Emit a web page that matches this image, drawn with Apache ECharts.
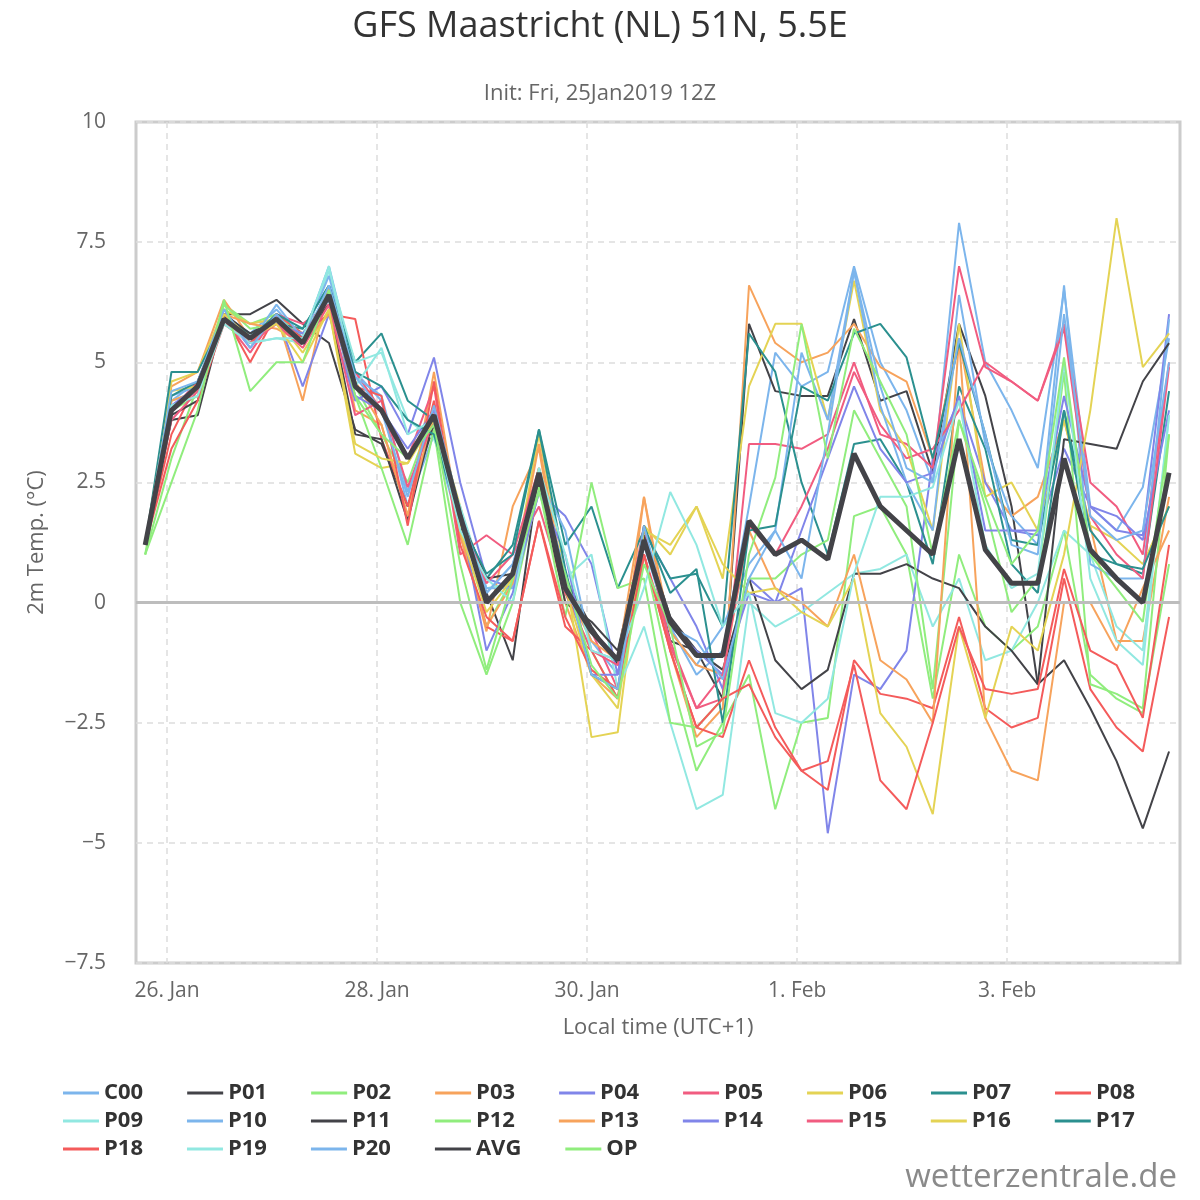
<!DOCTYPE html>
<html>
<head>
<meta charset="utf-8" />
<title>GFS Maastricht</title>
<script src="https://cdn.jsdelivr.net/npm/echarts@6/dist/echarts.min.js"></script>
<style>html,body{margin:0;padding:0;background:#fff}#chart{width:1200px;height:1200px}</style>
</head>
<body>
<div id="chart"></div>
<script>
// hours after 26 Jan 00:00 local time, 6-hourly from 25 Jan 19:00
var hours = [];
for (var i = 0; i < 40; i++) hours.push(-5 + 6 * i);

var dayTicks = [0, 48, 96, 144, 192];
var dayLabels = ['26. Jan', '28. Jan', '30. Jan', '1. Feb', '3. Feb'];

var names = ['C00','P01','P02','P03','P04','P05','P06','P07','P08','P09','P10','P11','P12','P13','P14','P15','P16','P17','P18','P19','P20','AVG','OP'];
var colors = ['#7cb5ec','#434348','#90ed7d','#f7a35c','#8085e9','#f15c80','#e4d354','#2b908f','#f45b5b','#91e8e1',
              '#7cb5ec','#434348','#90ed7d','#f7a35c','#8085e9','#f15c80','#e4d354','#2b908f','#f45b5b','#91e8e1',
              '#7cb5ec','#434348','#90ed7d'];

var C00 = [1.2,4.2,4.6,6.0,5.6,6.1,5.5,7.0,4.8,4.2,2.0,3.5,1.5,0.2,0.8,2.5,0.5,-0.8,-1.5,1.5,-0.5,-1.5,-1.0,2.0,5.2,4.5,4.8,7.0,5.0,4.0,2.5,7.9,5.0,4.0,2.8,6.5,2.0,1.5,2.4,5.5];
var P01 = [1.2,3.8,3.9,6.0,6.0,6.3,5.8,5.4,3.6,3.3,2.0,3.7,1.6,0.2,-1.2,2.7,0.5,-0.5,-1.3,1.4,-0.8,-1.0,-2.0,5.8,4.4,4.3,4.3,5.9,4.2,4.4,2.7,5.8,4.3,2.0,-1.7,-1.2,-2.2,-3.3,-4.7,-3.1];
var P02 = [1.0,3.0,4.5,6.2,5.8,6.0,5.5,6.5,4.5,3.5,2.5,4.0,1.5,-0.5,0.5,2.5,0.2,-1.0,-2.0,1.0,-1.5,-3.5,-2.5,-1.5,-4.3,-2.5,-2.4,1.8,2.0,1.0,-2.0,1.0,-0.5,-1.0,-0.5,1.5,-1.5,-2.0,-2.3,0.8];
var P03 = [1.2,4.5,4.8,6.3,5.5,6.0,4.2,6.6,4.0,3.7,1.8,4.8,1.5,-0.6,2.0,3.2,0.0,-1.5,-2.0,2.2,-1.0,-2.8,-2.2,6.6,5.4,5.0,5.2,5.8,4.9,4.6,3.0,5.5,2.5,1.8,2.2,3.8,1.6,-0.8,-0.8,2.2];
var P04 = [1.2,4.1,4.4,6.0,5.3,6.0,4.5,6.0,4.2,4.5,3.5,5.1,2.5,0.5,0.3,2.3,1.8,0.8,-1.5,1.5,0.5,-0.5,-1.8,0.5,0.0,0.3,-4.8,-1.5,-1.8,-1.0,3.0,4.2,2.5,1.5,1.4,3.2,2.0,1.5,1.4,6.0];
var P05 = [1.2,4.0,4.6,5.9,5.2,6.0,5.8,6.2,4.8,4.0,3.0,4.5,1.0,1.4,1.0,2.0,0.2,-0.6,-1.8,1.0,-0.8,-2.2,-2.0,3.3,3.3,3.2,3.5,5.0,3.5,3.3,2.8,7.0,4.9,4.6,4.2,5.8,2.5,2.0,1.0,5.0];
var P06 = [1.2,4.6,4.8,6.1,5.8,5.9,5.2,6.1,3.1,2.8,2.9,3.9,2.0,0.0,0.5,3.5,0.6,-2.8,-2.7,1.6,1.0,2.0,0.5,4.5,5.8,5.8,3.8,6.7,4.0,3.2,1.5,5.8,2.2,2.5,1.5,3.8,1.6,1.3,0.8,2.0];
var P07 = [1.2,4.8,4.8,5.9,5.6,5.8,5.7,6.6,5.0,5.6,4.2,3.8,1.8,0.5,1.2,3.6,1.2,2.0,0.3,1.5,0.5,0.6,-0.5,5.6,4.8,2.5,1.0,3.3,3.4,2.5,0.8,4.5,3.2,0.8,0.2,4.0,1.5,0.8,0.6,4.4];
var P08 = [1.2,3.5,4.6,6.0,5.0,6.0,5.6,6.0,5.9,3.4,2.0,4.2,1.4,-0.5,-0.8,1.7,-0.5,-1.0,-2.0,1.0,-1.0,-2.6,-2.8,-1.2,-2.6,-3.5,-3.9,-1.2,-1.9,-2.0,-2.2,-0.3,-2.2,-2.6,-2.4,0.5,-1.8,-2.6,-3.1,-0.3];
var P09 = [1.2,4.2,4.4,5.8,5.4,5.5,5.4,6.9,5.0,5.2,3.8,3.4,2.0,0.3,0.4,2.8,0.5,1.0,-1.8,-0.5,-2.5,-4.3,-4.0,0.0,-0.5,-0.2,0.2,0.6,0.7,1.0,-0.5,0.5,-1.2,-1.0,0.0,1.5,1.0,-0.5,-1.0,3.9];
var P10 = [1.2,4.3,4.5,6.1,5.4,6.2,5.5,6.8,4.7,4.3,2.3,4.0,1.8,0.3,0.3,2.6,1.5,-1.0,-1.2,1.2,-0.6,-1.3,-0.5,0.8,1.5,5.2,3.8,6.9,4.1,2.5,1.5,6.4,3.3,1.8,1.2,6.6,0.8,0.5,0.5,5.9];
var P11 = [1.2,3.9,4.2,6.0,5.6,5.9,5.5,6.2,3.5,3.4,1.7,3.9,1.8,0.5,0.6,2.5,0.0,-0.4,-1.0,1.4,-0.3,-1.0,-1.4,0.5,-1.2,-1.8,-1.4,0.6,0.6,0.8,0.5,0.3,-0.5,-1.0,-1.7,3.4,3.3,3.2,4.6,5.4];
var P12 = [1.0,4.0,4.3,6.2,5.7,5.8,5.6,6.3,4.3,2.8,1.2,3.6,0.0,-1.5,0.0,2.4,-0.3,2.5,0.3,0.5,-2.5,-2.6,-2.0,0.5,0.5,1.0,1.3,4.0,3.0,2.0,-1.8,3.8,2.0,-0.2,0.5,4.8,-1.7,-1.9,-2.2,3.5];
var P13 = [1.2,4.2,4.4,6.0,5.8,5.7,5.4,6.0,4.6,3.7,1.8,4.0,1.4,-0.5,0.4,3.3,0.3,-0.8,-1.2,2.2,-0.6,-1.3,-1.5,1.5,0.3,0.0,-0.5,1.0,-1.2,-1.6,-2.5,5.5,-2.4,-3.5,-3.7,0.0,0.0,-1.0,0.3,1.5];
var P14 = [1.2,4.1,4.5,5.9,5.5,5.8,5.6,6.3,4.3,4.0,3.2,4.0,1.8,-1.0,0.2,2.3,1.0,-1.5,-1.5,1.3,-0.5,-1.0,-1.5,0.2,0.0,1.5,3.0,4.5,3.2,2.5,2.7,4.3,1.5,1.5,1.5,4.3,2.0,1.8,1.3,4.0];
var P15 = [1.2,3.8,4.4,5.9,5.4,5.8,5.3,6.2,3.9,4.2,2.4,3.8,1.8,0.4,1.0,2.8,0.2,-1.0,-1.3,1.6,-0.9,-2.2,-1.5,1.6,1.0,2.0,3.2,4.8,3.7,3.0,3.2,4.0,5.0,4.6,4.2,5.7,1.8,1.0,0.5,4.9];
var P16 = [1.2,4.4,4.5,6.0,5.5,5.8,5.0,6.1,3.3,3.0,2.9,3.8,1.5,-0.2,0.5,2.8,0.3,-1.5,-2.2,1.5,1.2,2.0,0.8,0.2,0.3,-0.2,-0.5,0.5,-2.3,-3.0,-4.4,-0.5,-2.4,-0.5,-1.0,1.0,4.0,8.0,4.9,5.6];
var P17 = [1.2,4.3,4.6,5.9,5.5,6.0,5.7,6.6,4.8,4.5,3.8,3.5,1.7,0.6,1.0,3.6,0.7,-1.5,-1.8,1.6,0.2,0.7,-2.5,1.5,1.6,4.5,4.2,5.6,5.8,5.1,3.0,5.4,3.5,1.3,1.2,4.0,1.0,0.8,0.7,2.0];
var P18 = [1.2,3.2,4.2,5.8,5.4,5.9,5.5,6.4,4.5,4.3,1.6,4.6,1.2,-0.3,-0.8,1.7,-0.3,-1.4,-1.8,1.0,-1.0,-2.6,-2.0,-1.7,-2.8,-3.5,-3.3,-1.3,-3.7,-4.3,-2.5,-0.5,-1.8,-1.9,-1.8,0.7,-1.0,-1.3,-2.4,1.2];
var P19 = [1.2,4.1,4.3,5.8,5.4,5.5,5.5,7.0,4.5,5.3,3.5,3.8,1.5,0.5,0.0,2.8,1.0,-1.0,-1.2,0.3,2.3,1.2,-0.5,0.2,-2.3,-2.5,-2.0,0.6,2.2,2.2,2.4,4.2,1.2,0.3,0.6,5.0,0.5,-0.8,-1.3,3.9];
var P20 = [1.2,4.4,4.6,6.1,5.3,6.0,5.4,6.6,4.7,4.0,2.2,4.1,1.9,0.2,0.8,2.6,0.6,-1.5,-1.8,1.6,-0.5,-0.8,-1.6,0.5,1.5,0.5,3.5,6.9,4.5,2.8,2.5,5.5,3.5,1.2,1.0,6.0,1.8,1.3,1.5,5.0];
var AVG = [1.2,4.0,4.5,5.9,5.5,5.9,5.4,6.4,4.5,4.0,3.0,3.9,1.8,0.0,0.6,2.7,0.3,-0.6,-1.2,1.3,-0.4,-1.1,-1.1,1.7,1.0,1.3,0.9,3.1,2.0,1.5,1.0,3.4,1.1,0.4,0.4,3.0,1.1,0.5,0.0,2.7];
var OP = [1.0,2.5,4.0,6.3,4.4,5.0,5.0,6.5,4.3,3.5,3.0,3.7,0.8,-1.4,0.5,2.3,0.6,-1.3,-2.0,0.8,-0.5,-3.0,-2.7,1.0,2.6,5.8,3.0,5.7,4.6,3.5,1.0,3.8,2.2,0.8,1.5,5.1,1.0,0.3,-0.4,3.5];

var allData = [C00,P01,P02,P03,P04,P05,P06,P07,P08,P09,P10,P11,P12,P13,P14,P15,P16,P17,P18,P19,P20,AVG,OP];

var chart = echarts.init(document.getElementById('chart'));

var series = names.map(function (n, k) {
  var isAvg = n === 'AVG';
  var s = {
    name: n,
    type: 'line',
    data: allData[k].map(function (v, i) { return [hours[i], v]; }),
    symbol: 'none',
    color: colors[k],
    lineStyle: { width: isAvg ? 5 : 2, color: colors[k] },
    z: isAvg ? 5 : 2
  };
  if (isAvg) {
    s.markLine = {
      silent: true, symbol: 'none', label: { show: false },
      lineStyle: { color: '#bdbdbd', width: 3, type: 'solid' },
      data: [{ yAxis: 0 }]
    };
  }
  return s;
});

function legendRow(items, top) {
  return {
    data: items, top: top, left: 58, itemGap: 44, itemWidth: 36, itemHeight: 14,
    icon: 'path://M0,6 L36,6 L36,9 L0,9 Z',
    textStyle: { fontSize: 22, fontWeight: 'bold', color: '#333', fontFamily: 'Open Sans' }
  };
}

var option = {
  animation: false,
  backgroundColor: '#fff',
  title: [
    { text: 'GFS Maastricht (NL) 51N, 5.5E', left: 'center', top: 4,
      textStyle: { fontSize: 36, fontWeight: 'normal', color: '#333', fontFamily: 'Open Sans' } },
    { text: 'Init: Fri, 25Jan2019 12Z', left: 'center', top: 78,
      textStyle: { fontSize: 22, fontWeight: 'normal', color: '#666', fontFamily: 'Open Sans' } },
    { text: 'wetterzentrale.de', right: 18, top: 1156,
      textStyle: { fontSize: 33, fontWeight: 'normal', color: '#8a8a8a', fontFamily: 'Open Sans' } }
  ],
  legend: [
    legendRow(names.slice(0, 9), 1077),
    legendRow(names.slice(9, 18), 1105),
    legendRow(names.slice(18), 1133)
  ],
  grid: { left: 136, top: 122, width: 1044, height: 841, show: true, borderColor: '#ccc', borderWidth: 3 },
  xAxis: {
    type: 'value', min: -7.1, max: 231.5,
    name: 'Local time (UTC+1)', nameLocation: 'middle', nameGap: 54,
    nameTextStyle: { fontSize: 22, color: '#666', fontFamily: 'Open Sans' },
    axisLine: { show: false },
    axisTick: { show: false, customValues: dayTicks },
    axisLabel: {
      customValues: dayTicks, fontSize: 21, color: '#666', margin: 18, fontFamily: 'Open Sans',
      formatter: function (v) { return dayLabels[dayTicks.indexOf(v)]; }
    },
    splitLine: { show: true, lineStyle: { color: '#ddd', type: [6, 5], width: 1.5 } }
  },
  yAxis: {
    type: 'value', min: -7.5, max: 10, interval: 2.5,
    name: '2m Temp. (°C)', nameLocation: 'middle', nameGap: 88,
    nameTextStyle: { fontSize: 22, color: '#666', fontFamily: 'Open Sans' },
    axisLine: { show: false }, axisTick: { show: false },
    axisLabel: {
      fontSize: 21, color: '#666', margin: 30, fontFamily: 'Open Sans',
      formatter: function (v) { return String(v).replace('-', '\u2212'); }
    },
    splitLine: { show: true, lineStyle: { color: '#ddd', type: [6, 5], width: 1.5 } }
  },
  series: series
};

chart.setOption(option);
</script>
</body>
</html>
